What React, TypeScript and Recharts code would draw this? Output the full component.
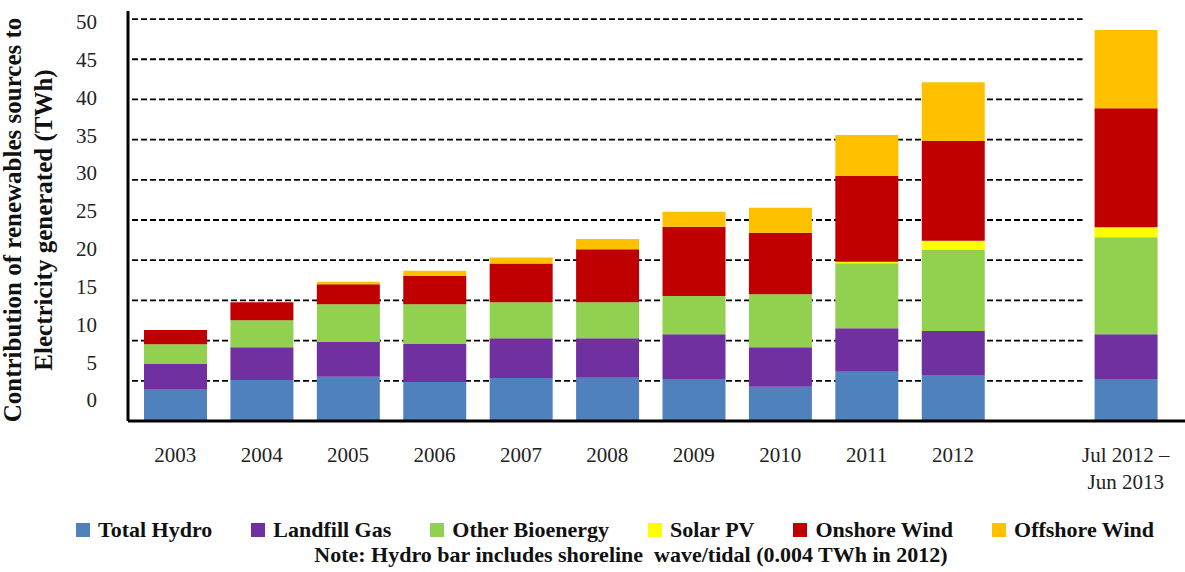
import React from 'react';
import { BarChart, Bar, XAxis, YAxis, ReferenceLine } from 'recharts';

const categories = ['2003', '2004', '2005', '2006', '2007', '2008', '2009', '2010', '2011', '2012', '', 'Jul 2012 –\nJun 2013'];

// TWh per source
const totalHydro = [3.98, 5.1, 5.51, 4.85, 5.35, 5.39, 5.22, 4.27, 6.13, 5.72, null, 5.22];
const landfillGas = [3.11, 4.07, 4.32, 4.73, 4.94, 4.9, 5.56, 4.9, 5.4, 5.48, null, 5.56];
const otherBioenergy = [2.45, 3.36, 4.69, 4.94, 4.48, 4.48, 4.77, 6.59, 8.09, 10.07, null, 12.07];
const solarPV = [0, 0, 0, 0, 0, 0, 0, 0, 0.2, 1.16, null, 1.25];
const onshoreWind = [1.78, 2.24, 2.48, 3.55, 4.82, 6.59, 8.62, 7.66, 10.65, 12.4, null, 14.8];
const offshoreWind = [0, 0, 0.33, 0.63, 0.75, 1.28, 1.87, 3.11, 5.11, 7.3, null, 9.74];

const gridValues = [5, 10, 15, 20, 25, 30, 35, 40, 45, 50];
const tickLabels = [0, 5, 10, 15, 20, 25, 30, 35, 40, 45, 50];

const seriesNames = ['Total Hydro', 'Landfill Gas', 'Other Bioenergy', 'Solar PV', 'Onshore Wind', 'Offshore Wind'];
const seriesValues = [totalHydro, landfillGas, otherBioenergy, solarPV, onshoreWind, offshoreWind];
const seriesColors = ['#4F81BD', '#7030A0', '#92D050', '#FFFF00', '#C00000', '#FFC000'];

const data = categories.map((name, i) => {
  const row: Record<string, any> = { name };
  seriesValues.forEach((vals, s) => {
    row['s' + s] = vals[i];
  });
  return row;
});

const FONT = 'Liberation Serif, Times New Roman, serif';

const XTick = ({ x, y, payload }: any) => {
  const lines = String(payload.value).split('\n');
  return (
    <text x={x} y={y} textAnchor="middle" fontSize={21} fill="#222" fontFamily={FONT}>
      {lines.map((l, i) => (
        <tspan key={i} x={x} dy={i === 0 ? 41 : 27}>
          {l}
        </tspan>
      ))}
    </text>
  );
};

const YTitle = ({ viewBox }: any) => {
  const cy = viewBox.y + viewBox.height / 2 + 4;
  const common = {
    textAnchor: 'middle' as const,
    fontSize: 25,
    fontWeight: 'bold',
    fill: '#111',
    fontFamily: FONT,
  };
  return (
    <g>
      <text transform={`translate(${viewBox.x + 21}, ${cy}) rotate(-90)`} {...common}>
        Contribution of renewables sources to
      </text>
      <text transform={`translate(${viewBox.x + 52}, ${cy}) rotate(-90)`} {...common}>
        Electricity generated (TWh)
      </text>
    </g>
  );
};

export default function App() {
  const first = categories[0];
  const last = categories[categories.length - 1];
  return (
    <div style={{ position: 'absolute', left: 0, top: 0, width: 1185, height: 572, background: '#fff', fontFamily: FONT }}>
      <BarChart width={1185} height={572} data={data} margin={{ top: 11, right: 0, bottom: 0, left: 0 }} barSize={63}>
        <XAxis
          dataKey="name"
          height={151}
          interval={0}
          padding={{ left: 4, right: 16 }}
          axisLine={{ stroke: '#000', strokeWidth: 3 }}
          tickLine={false}
          tickSize={0}
          tickMargin={0}
          tick={<XTick />}
        />
        <YAxis yAxisId="v" hide domain={[0, 51]} allowDataOverflow type="number" />
        <YAxis
          yAxisId="lbl"
          type="number"
          width={128}
          domain={[-2.78, 51.41]}
          allowDataOverflow
          ticks={tickLabels}
          interval={0}
          axisLine={{ stroke: '#000', strokeWidth: 3 }}
          tickLine={false}
          tickSize={0}
          tickMargin={31}
          tick={{ fill: '#222', fontSize: 21, fontFamily: FONT }}
          label={{ content: <YTitle /> }}
        />
        {gridValues.map((v) => (
          <ReferenceLine
            key={v}
            yAxisId="v"
            segment={[{ x: first, y: v }, { x: last, y: v }]}
            position="start"
            stroke="#000"
            strokeWidth={1.8}
            strokeDasharray="6 3"
            zIndex={-100}
          />
        ))}
        {seriesNames.map((n, s) => (
          <Bar key={n} yAxisId="v" dataKey={'s' + s} name={n} stackId="a" fill={seriesColors[s]} isAnimationActive={false} />
        ))}
      </BarChart>
      <div
        style={{
          position: 'absolute',
          left: 76,
          top: 520,
          display: 'flex',
          alignItems: 'center',
          gap: 39,
          fontSize: 22,
          fontWeight: 'bold',
          lineHeight: '20px',
          color: '#111',
          whiteSpace: 'nowrap',
        }}
      >
        {seriesNames.map((n, s) => (
          <div key={n} style={{ display: 'flex', alignItems: 'center', gap: 8 }}>
            <span style={{ display: 'inline-block', width: 14, height: 14, background: seriesColors[s] }} />
            <span>{n}</span>
          </div>
        ))}
      </div>
      <div
        style={{
          position: 'absolute',
          left: 0,
          width: 1262,
          top: 544,
          textAlign: 'center',
          fontSize: 22,
          fontWeight: 'bold',
          lineHeight: '22px',
          color: '#111',
          whiteSpace: 'pre',
        }}
      >
        {'Note: Hydro bar includes shoreline  wave/tidal (0.004 TWh in 2012)'}
      </div>
    </div>
  );
}
